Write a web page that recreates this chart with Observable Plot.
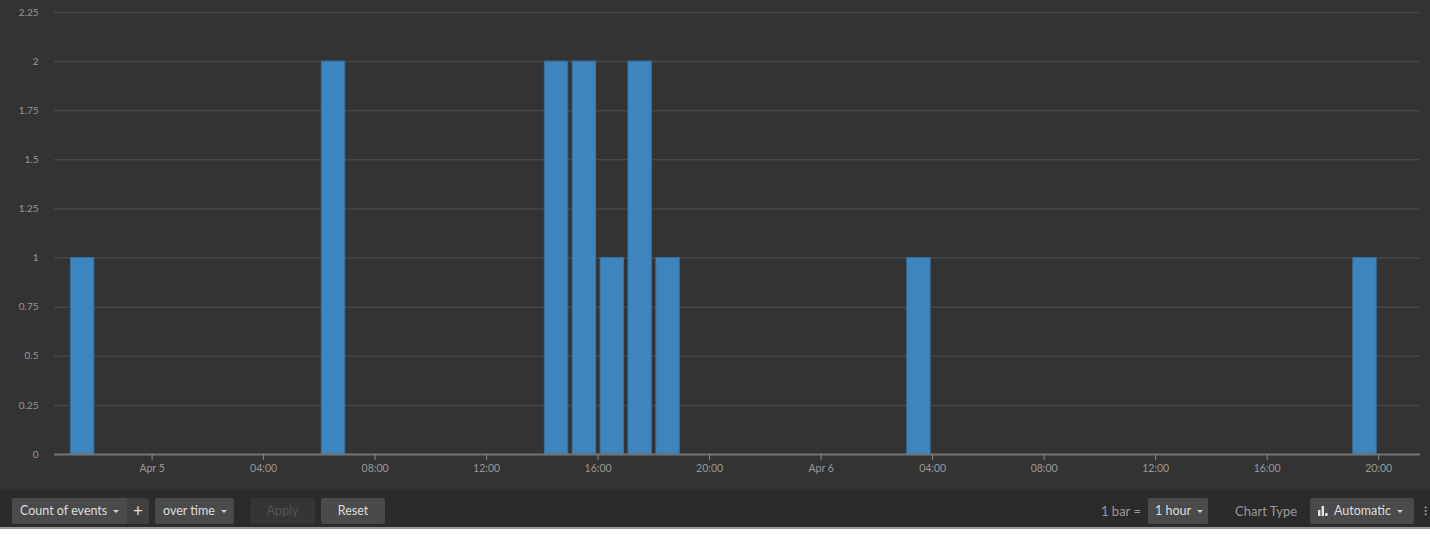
<!DOCTYPE html>
<html>
<head>
<meta charset="utf-8">
<script src="https://cdn.jsdelivr.net/npm/d3@7"></script>
<script src="https://cdn.jsdelivr.net/npm/@observablehq/plot@0.6"></script>
<style>
  html, body { margin: 0; padding: 0; background: #ffffff; width: 1430px; height: 534px; overflow: hidden; }
  #wrap { position: relative; width: 1430px; height: 534px; font-family: Lato, "Open Sans", sans-serif; }
  #chart { position: absolute; left: 0; top: 0; width: 1430px; height: 490px; background: #333333; }
  #bar { position: absolute; left: 0; top: 490px; width: 1430px; height: 39px; background: #2b2b2b; border-bottom: 2px solid #9a9a9a; box-sizing: border-box; }
  .btn { position: absolute; top: 8px; height: 26px; line-height: 26px; background: #4a4a4a; color: #dedede; font-size: 12.5px; border-radius: 2px; box-sizing: border-box; padding: 0 8px; white-space: nowrap; }
  .caret { display: inline-block; width: 0; height: 0; border-left: 3px solid transparent; border-right: 3px solid transparent; border-top: 3px solid #d0d0d0; vertical-align: middle; margin-left: 6px; }
  .lbl { position: absolute; top: 8px; height: 26px; line-height: 26px; color: #9a9a9a; font-size: 13px; white-space: nowrap; }
</style>
</head>
<body>
<div id="wrap">
  <div id="chart"></div>
  <div id="bar">
    <div class="btn" style="left:12px;width:115px;border-radius:2px 0 0 2px;">Count of events<span class="caret"></span></div>
    <div class="btn" style="left:127px;width:22px;padding:0;text-align:center;font-size:17px;background:#404040;border-radius:0 2px 2px 0;">+</div>
    <div class="btn" style="left:155px;width:79px;">over time<span class="caret"></span></div>
    <div class="btn" style="left:250px;width:65px;background:#353535;color:#555555;text-align:center;">Apply</div>
    <div class="btn" style="left:321px;width:64px;text-align:center;">Reset</div>
    <div class="lbl" style="left:1101px;">1 bar =</div>
    <div class="btn" style="left:1148px;width:60px;padding:0 7px;">1 hour<span class="caret"></span></div>
    <div class="lbl" style="left:1235px;">Chart Type</div>
    <div class="btn" style="left:1310px;width:104px;padding:0 8px;"><svg width="10" height="10" style="vertical-align:-1px;margin-right:6px"><rect x="0" y="4" width="2.4" height="6" fill="#e4e4e4"/><rect x="3.6" y="0" width="2.4" height="10" fill="#e4e4e4"/><rect x="7.2" y="7" width="2.4" height="3" fill="#e4e4e4"/></svg>Automatic<span class="caret"></span></div>
    <div class="lbl" style="left:1424px;color:#cccccc;font-size:12px;">⁝</div>
  </div>
</div>
<script>
// Hour bins (UTC) and event counts
const hours = [
  "2016-04-04T21:00Z",
  "2016-04-05T06:00Z",
  "2016-04-05T14:00Z",
  "2016-04-05T15:00Z",
  "2016-04-05T16:00Z",
  "2016-04-05T17:00Z",
  "2016-04-05T18:00Z",
  "2016-04-06T03:00Z",
  "2016-04-06T19:00Z"
];
const counts = [1, 2, 2, 2, 1, 2, 1, 1, 1];
const yTicks = [0, 0.25, 0.5, 0.75, 1, 1.25, 1.5, 1.75, 2, 2.25];
const xDomain = ["2016-04-04T20:30Z", "2016-04-06T21:30Z"];

const data = hours.map((h, i) => ({ start: new Date(h), end: d3.utcHour.offset(new Date(h), 1), count: counts[i] }));
const xTicks = d3.utcHour.every(4).range(new Date(xDomain[0]), new Date(xDomain[1]));
const fmt = d => (d.getUTCHours() === 0 ? d3.utcFormat("%b %-d")(d) : d3.utcFormat("%H:%M")(d));

const chart = Plot.plot({
  width: 1430,
  height: 490,
  marginLeft: 54,
  marginRight: 10,
  marginTop: 12,
  marginBottom: 36,
  style: { background: "transparent", color: "#9a9a9a", fontFamily: "Lato, 'Open Sans', sans-serif", fontSize: "10px" },
  x: { type: "utc", domain: xDomain.map(d => new Date(d)), label: null },
  y: { domain: [0, 2.25], label: null },
  marks: [
    Plot.gridY(yTicks, { stroke: "#474747", strokeOpacity: 1, strokeWidth: 1.5 }),
    Plot.rectY(data, { x1: "start", x2: "end", y: "count", insetLeft: 2.5, insetRight: 2, fill: "#3c85bf", stroke: "#3a72a0", strokeWidth: 1 }),
    Plot.ruleY([0], { stroke: "#727272", strokeWidth: 2 }),
    Plot.axisY(yTicks, { tickSize: 0, tickPadding: 16, tickFormat: d => String(d), fill: "#999999", fontSize: 10 }),
    Plot.axisX(xTicks, { tickSize: 6, tickPadding: 4, tickFormat: fmt, stroke: "#8a8a8a", fill: "#999999", fontSize: 10.5 })
  ]
});
document.getElementById("chart").appendChild(chart);
</script>
</body>
</html>
